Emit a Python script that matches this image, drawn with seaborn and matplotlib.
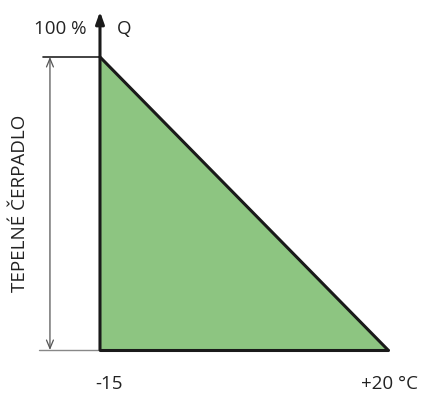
import matplotlib
matplotlib.use("Agg")
import matplotlib.pyplot as plt
import seaborn as sns
import pandas as pd

sns.set_style("white")
plt.rcParams['font.family'] = ['Open Sans', 'DejaVu Sans']

temps = [-15, 20]
q_values = [100, 0]
tick_labels = ["-15", "+20 °C"]
y_label_top = "100 %"
axis_name = "Q"
side_label = "TEPELNÉ ČERPADLO"

df = pd.DataFrame({"t": temps, "q": q_values})

fig = plt.figure(figsize=(4.22, 3.94), dpi=100)
ax = fig.add_axes([0, 0, 1, 1])
ax.set_xlim(-27.15, 24.13)
ax.set_ylim(-15.02, 119.45)
ax.axis("off")

ax.fill_between(df["t"], df["q"], 0, color="#8dc581", zorder=1)
sns.lineplot(data=df, x="t", y="q", ax=ax, color="#1a1a1a", linewidth=2.2, zorder=3)
ax.plot([temps[0], temps[1]], [0, 0], color="#1a1a1a", linewidth=2.2, zorder=3)

# vertical Q axis with arrow
ax.annotate("", xy=(temps[0], 115.5), xytext=(temps[0], 0),
            arrowprops=dict(arrowstyle="-|>,head_length=0.7,head_width=0.25",
                            color="#1a1a1a", lw=2.2, shrinkA=0, shrinkB=0), zorder=4)
ax.text(-12.1, 109.5, axis_name, fontsize=13.5, color="#222222", ha="center", va="center")
ax.text(-16.6, 109.5, y_label_top, fontsize=13.5, color="#222222", ha="right", va="center")

# helper lines
ax.plot([-21.9, temps[0]], [100, 100], color="#222222", linewidth=1.2, zorder=2)
ax.plot([-22.4, temps[0]], [0, 0], color="#888888", linewidth=1.0, zorder=2)
ax.annotate("", xy=(-21.08, 100), xytext=(-21.08, 0),
            arrowprops=dict(arrowstyle="<->,head_length=0.6,head_width=0.25",
                            color="#555555", lw=0.9, shrinkA=0, shrinkB=0))
ax.text(-24.7, 50, side_label, fontsize=13.5, color="#222222", rotation=90,
        ha="center", va="center")

# tick labels
ax.text(-13.9, -11.6, tick_labels[0], fontsize=13.5, color="#222222", ha="center", va="center")
ax.text(20.2, -11.6, tick_labels[1], fontsize=13.5, color="#222222", ha="center", va="center")

fig.savefig("out.png", dpi=100, facecolor="white")
